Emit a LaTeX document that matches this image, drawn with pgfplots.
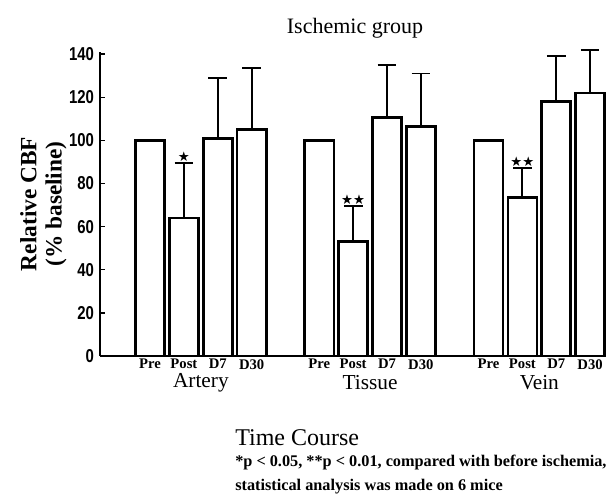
\documentclass[border=0pt]{standalone}
\usepackage{pgfplots}
\pgfplotsset{compat=1.18}
\usepackage{fontspec}
\setmainfont{Liberation Serif}
\newfontfamily\symfont{DejaVu Sans}
\newfontfamily\ticfont{Liberation Sans}
\pgfplotstableread{
x y e
1 64 25.5
2 101 28
3 105 28.5
6 53 16.5
7 110.5 24.5
8 106.5 24.5
11 73.5 13.5
12 118 21
13 122 20
}\witherr
\pgfplotstableread{
x y
0 100
5 100
10 100
}\pre
\begin{document}
\begin{tikzpicture}
\useasboundingbox (0,0) rectangle (454.5pt,372pt);
\begin{axis}[
  at={(75pt,105pt)}, anchor=south west,
  scale only axis, width=379.5pt, height=228pt,
  xmin=-1.48, xmax=13.47, ymin=0, ymax=141,
  ybar, bar width=0.86, bar shift=0pt,
  axis x line*=bottom, axis y line*=left,
  x axis line style={-, line width=1.6pt},
  y axis line style={-, line width=1.6pt},
  ytick={0,20,...,140},
  tick align=inside, major tick length=3.5pt,
  ytick style={line width=1pt, black},
  xtick={0,1,2,3,5,6,7,8,10,11,12,13},
  xticklabels={Pre,Post,D7,D30,Pre,Post,D7,D30,Pre,Post,D7,D30},
  xtick style={draw=none},
  xticklabel style={font=\bfseries\fontsize{11}{12}\selectfont, yshift=1pt},
  yticklabel={\scalebox{0.8}[1]{\pgfmathprintnumber{\tick}}},
  yticklabel style={font=\ticfont\bfseries\fontsize{14}{15}\selectfont, xshift=-1pt},
  /pgf/number format/assume math mode=true,
  ylabel={Relative CBF\\(\% baseline)},
  ylabel style={align=center, font=\bfseries\fontsize{17.5}{19}\selectfont, yshift=-5pt},
  clip=false,
]
\addplot[draw=black, fill=white, line width=2pt] table[x=x, y=y]{\pre};
\addplot[draw=black, fill=white, line width=2pt,
  error bars/.cd, y dir=plus, y explicit,
  error bar style={line width=1.4pt, black},
  error mark options={rotate=90, line width=1.4pt, mark size=7pt}]
table[x=x, y=y, y error=e]{\witherr};
\node[anchor=south, font=\symfont\fontsize{10}{10}\selectfont, inner sep=1pt] at (axis cs:1,89.5) {★};
\node[anchor=south, font=\symfont\fontsize{10}{10}\selectfont, inner sep=1pt] at (axis cs:6,69.5) {★★};
\node[anchor=south, font=\symfont\fontsize{10}{10}\selectfont, inner sep=1pt] at (axis cs:11,87) {★★};
\node[font=\fontsize{16}{17}\selectfont, yshift=-20.25pt] at (axis cs:1.5,0) {Artery};
\node[font=\fontsize{16}{17}\selectfont, yshift=-20.25pt] at (axis cs:6.5,0) {Tissue};
\node[font=\fontsize{16}{17}\selectfont, yshift=-20.25pt] at (axis cs:11.5,0) {Vein};
\end{axis}
\node[font=\fontsize{16.5}{18}\selectfont] at (266.25pt,351pt) {Ischemic group};
\node[anchor=west, inner sep=0pt, font=\fontsize{18}{20}\selectfont] at (176.25pt,43.5pt) {Time Course};
\node[anchor=west, inner sep=0pt, font=\bfseries\fontsize{12.2}{13}\selectfont] at (176.25pt,24.75pt) {*p < 0.05, **p < 0.01, compared with before ischemia,};
\node[anchor=west, inner sep=0pt, font=\bfseries\fontsize{12.2}{13}\selectfont] at (176.25pt,6.75pt) {statistical analysis was made on 6 mice};
\end{tikzpicture}
\end{document}
